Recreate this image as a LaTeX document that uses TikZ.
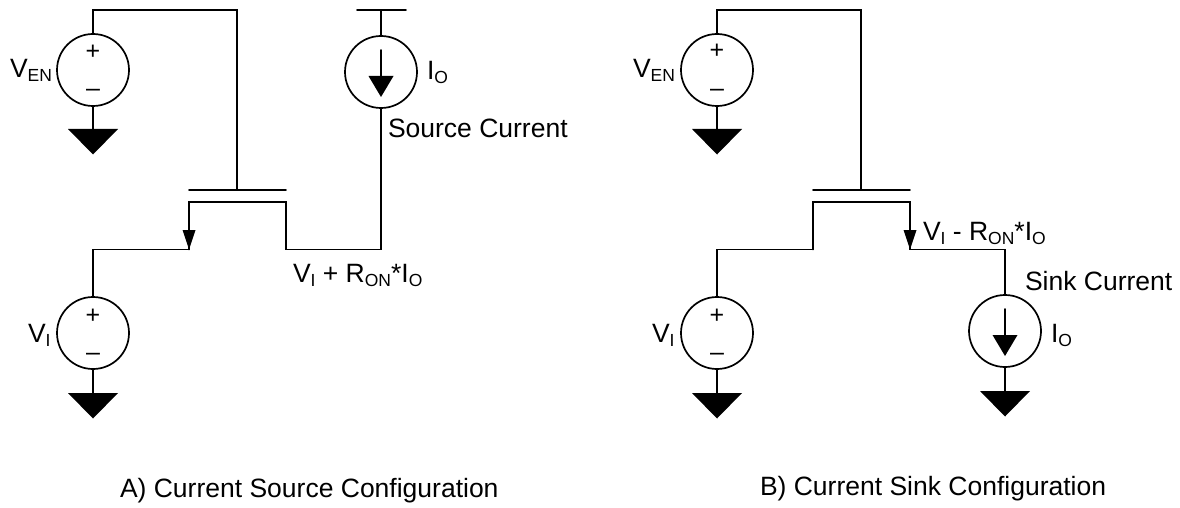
\documentclass[tikz,border=0pt]{standalone}
\usepackage{fontspec}
\setmainfont{Liberation Sans}
\newcommand{\subtxt}[1]{\raisebox{-4pt}{\fontsize{17.5}{18}\selectfont #1}}
\tikzset{
  x=1pt,y=-1pt,
  wire/.style={line width=1.7pt,line cap=round,line join=miter,black},
  src/.style={circle,draw=black,line width=1.7pt,minimum size=72pt,inner sep=0pt,fill=white},
  lbl/.style={anchor=base west,inner sep=0pt,outer sep=0pt,font=\fontsize{26.5}{30}\selectfont,text=black},
  sign/.style={anchor=center,inner sep=0pt,outer sep=0pt,font=\fontsize{25}{30}\selectfont,text=black},
  gnd/.pic={\fill[black] (-25,0) -- (25,0) -- (0,25.5) -- cycle;},
  arrowfet/.pic={\fill[black] (-6.5,-19.5) -- (6.5,-19.5) -- (0,0) -- cycle;},
  arrowsrc/.pic={\fill[black] (-12.5,4) -- (12.5,4) -- (0,25) -- cycle;}
}
\begin{document}
\begin{tikzpicture}
\useasboundingbox (0,0) rectangle (1180,508);
% ---- Panel A
\node[src] (ven1) at (93,70) {};
\node[src] (vi1) at (93,333) {};
\node[src] (io1) at (381,72) {};
\coordinate (gate1) at (237,190);
\coordinate (gl1) at (189,190);
\coordinate (gr1) at (286,190);
\coordinate (s1) at (189,202);
\coordinate (d1) at (286,202);
\coordinate (sb1) at (189,249.5);
\coordinate (db1) at (286,249.5);
\coordinate (tl1) at (357,10);
\coordinate (tr1) at (406,10);
\coordinate (t1) at (381,10);
\coordinate (g1) at (93,129);
\coordinate (g2) at (93,393);
\coordinate (a1s) at (381,50);
\coordinate (a1e) at (381,78);
\draw[wire] (ven1.north) |- (237,10) -- (gate1);
\draw[wire] (gl1) -- (gr1);
\draw[wire] (sb1) -- (s1) -- (d1) -- (db1) -| (io1.south);
\draw[wire] (sb1) -| (vi1.north);
\draw[wire] (tl1) -- (tr1);
\draw[wire] (t1) -- (io1.north);
\draw[wire] (ven1.south) -- (g1);
\draw[wire] (vi1.south) -- (g2);
\draw[wire] (a1s) -- (a1e);
\pic at (g1) {gnd};
\pic at (g2) {gnd};
\pic at (sb1) {arrowfet};
\pic at (io1.center) {arrowsrc};
\node[sign] (p1) at (93,52.5) {+};
\node[sign] (m1) at (93,93) {–};
\node[sign] (p2) at (93,316) {+};
\node[sign] (m2) at (93,357) {–};
\node[lbl] (lven1) at (10,78) {V\subtxt{EN}};
\node[lbl] (lvi1) at (28,342) {V\subtxt{I}};
\node[lbl] (lio1) at (427,80) {I\subtxt{O}};
\node[lbl] (lsc) at (388,137) {Source Current};
\node[lbl] (lv1) at (293,282) {V\subtxt{I} + R\subtxt{ON}*I\subtxt{O}};
\node[lbl] (ta) at (120,497) {A) Current Source Configuration};
% ---- Panel B
\node[src] (ven2) at (717,70) {};
\node[src] (vi2) at (717,333) {};
\node[src] (io2) at (1005,331) {};
\coordinate (gate2) at (861,190);
\coordinate (gl2) at (813,190);
\coordinate (gr2) at (910,190);
\coordinate (s2) at (813,202);
\coordinate (d2) at (910,202);
\coordinate (sb2) at (813,249.5);
\coordinate (db2) at (910,249.5);
\coordinate (g3) at (717,129);
\coordinate (g4) at (717,393);
\coordinate (g5) at (1005,391);
\coordinate (a2s) at (1005,309);
\coordinate (a2e) at (1005,337);
\draw[wire] (ven2.north) |- (861,10) -- (gate2);
\draw[wire] (gl2) -- (gr2);
\draw[wire] (sb2) -- (s2) -- (d2) -- (db2) -| (io2.north);
\draw[wire] (sb2) -| (vi2.north);
\draw[wire] (ven2.south) -- (g3);
\draw[wire] (vi2.south) -- (g4);
\draw[wire] (io2.south) -- (g5);
\draw[wire] (a2s) -- (a2e);
\pic at (g3) {gnd};
\pic at (g4) {gnd};
\pic at (g5) {gnd};
\pic at (db2) {arrowfet};
\pic at (io2.center) {arrowsrc};
\node[sign] (p3) at (717,51.5) {+};
\node[sign] (m3) at (717,93) {–};
\node[sign] (p4) at (717,316) {+};
\node[sign] (m4) at (717,357) {–};
\node[lbl] (lven2) at (633,78) {V\subtxt{EN}};
\node[lbl] (lvi2) at (652,342) {V\subtxt{I}};
\node[lbl] (lio2) at (1051,342) {I\subtxt{O}};
\node[lbl] (lsk) at (1025,290) {Sink Current};
\node[lbl] (lv2) at (923,240) {V\subtxt{I} - R\subtxt{ON}*I\subtxt{O}};
\node[lbl] (tb) at (760,495) {B) Current Sink Configuration};
\end{tikzpicture}
\end{document}
